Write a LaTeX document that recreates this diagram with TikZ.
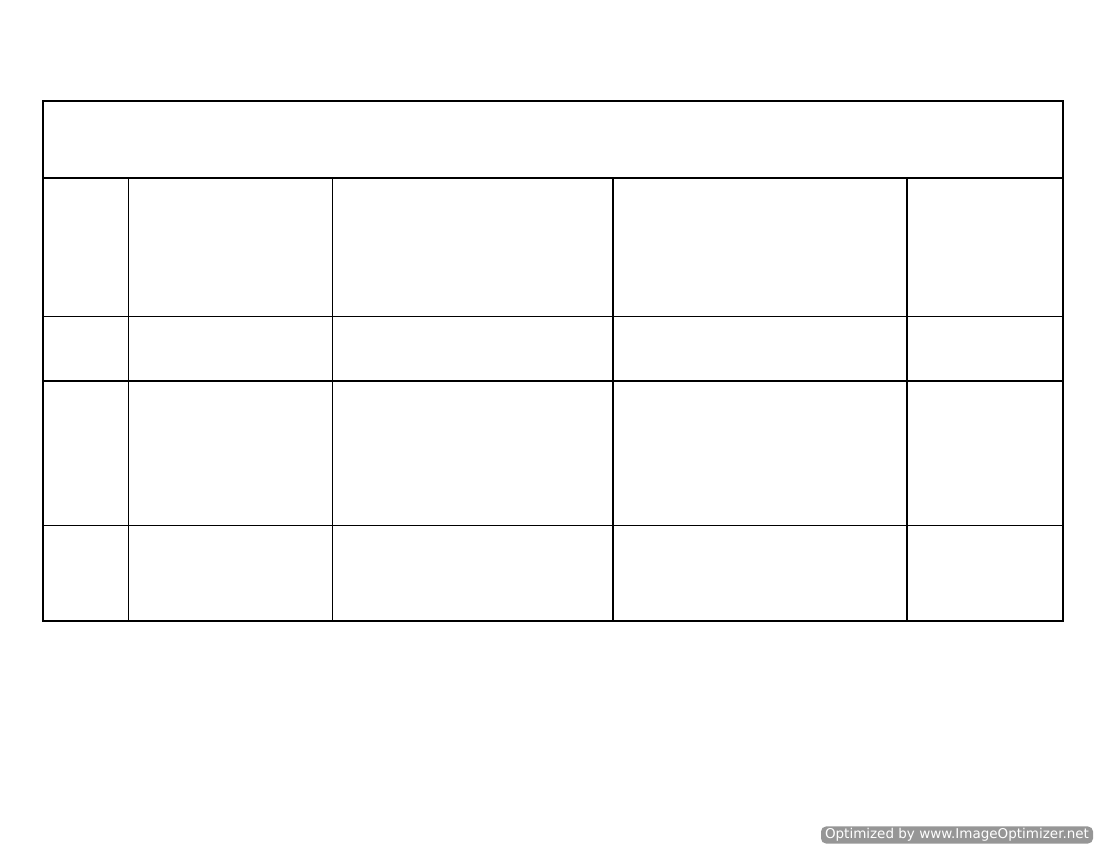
\documentclass[tikz,border=0pt]{standalone}
\usepackage{fontspec}
\newfontfamily\wmfont{DejaVu Sans}
\definecolor{wmgray}{RGB}{150,150,150}
\tikzset{
  thickrule/.style={line width=1.6pt},
  thinrule/.style={line width=1pt},
  watermark/.style={fill=wmgray,rounded corners=5pt,inner xsep=4pt,inner ysep=2pt,text=white,font=\wmfont\fontsize{13.5}{14}\selectfont}
}
\begin{document}
\begin{tikzpicture}[x=1pt,y=-1pt]
\useasboundingbox (0,0) rectangle (1100,850);
% header row and the thick rules
\draw[thickrule] (43,101) rectangle (1063,621);
\draw[thickrule] (43,178) -- (1063,178);
\draw[thickrule] (43,381) -- (1063,381);
\foreach \t in {613,907}{
\draw[thickrule] (\t,178) -- (\t,621);
}
% thin rules
\draw[thinrule] (43,316) -- (1063,316);
\draw[thinrule] (43,525) -- (1063,525);
\foreach \t in {128.5,332}{
\draw[thinrule] (\t,178) -- (\t,621);
}
\node[watermark] (wm) at (957,835) {Optimized by www.ImageOptimizer.net};
\end{tikzpicture}
\end{document}
